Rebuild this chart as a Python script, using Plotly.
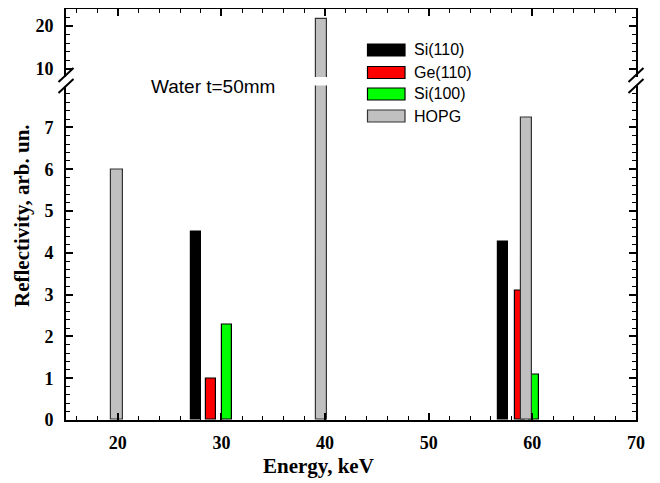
import plotly.graph_objects as go

# ---- data ----
series_names = ["Si(110)", "Ge(110)", "Si(100)", "HOPG"]
energy_si110 = [27.55, 57.21]
refl_si110 = [4.50, 4.27]
energy_ge110 = [29.03, 58.80]
refl_ge110 = [0.98, 3.09]
energy_si100 = [30.54, 60.15]
refl_si100 = [2.29, 1.09]
energy_hopg = [19.90, 39.66, 59.45]
refl_hopg = [6.00, 21.60, 7.23]
x_ticks = [20, 30, 40, 50, 60, 70]
y_low_ticks = [0, 1, 2, 3, 4, 5, 6, 7]
y_high_ticks = [10, 20]
annotation_text = "Water t=50mm"
x_title = "Energy, keV"
y_title = "Reflectivity, arb. un."

# page has an 8px body margin; plot area in page pixels is x 66..636, y 9..420
OFF = 8
W, H = 660 - OFF, 483 - OFF
L, R, T, B = 66 - OFF, 24, 9 - OFF, 63
PW, PH = W - L - R, H - T - B


def px(xp):  # page pixel -> paper
    return (xp - OFF - L) / PW


def py(yp):  # page pixel -> paper
    return (H - B - (yp - OFF)) / PH


low_top = py(85.6)
high_bot = py(77)

colors = ["#000000", "#ff0000", "#00ff00", "#c0c0c0"]
lines = ["#000000", "#000000", "#000000", "#333333"]
widths = [0.97, 0.97, 0.91, 1.12]
xs = [energy_si110, energy_ge110, energy_si100, energy_hopg]
ys = [refl_si110, refl_ge110, refl_si100, refl_hopg]

fig = go.Figure()
for xa, ya in (("x", "y"), ("x2", "y2")):
    for i in range(4):
        fig.add_trace(go.Bar(
            x=xs[i], y=ys[i], name=series_names[i], width=widths[i],
            marker=dict(color=colors[i], line=dict(color=lines[i], width=1.2)),
            xaxis=xa, yaxis=ya, showlegend=False,
        ))

tickfont = dict(family="Liberation Serif", size=18, color="black", weight="bold")
titlefont = dict(family="Liberation Serif", size=21, color="black", weight="bold")
common_x = dict(range=[15, 70], ticks="inside", ticklen=7, tickwidth=1.5,
                tickcolor="black", showline=True, linecolor="black", linewidth=2,
                showgrid=False, zeroline=False,
                minor=dict(dtick=2, tick0=0, ticks="inside", ticklen=4,
                           tickwidth=1.2, tickcolor="black"))

fig.update_layout(
    width=W, height=H,
    margin=dict(l=L, r=R, t=T, b=B, autoexpand=False),
    paper_bgcolor="white", plot_bgcolor="white",
    barmode="overlay", bargap=0,
    showlegend=False,
    xaxis=dict(**common_x, domain=[0, 1], anchor="y", tickvals=x_ticks,
               tickfont=tickfont, ticklabelstandoff=5),
    xaxis2=dict(**common_x, domain=[0, 1], anchor="y2", side="top",
                matches="x", tickvals=x_ticks, showticklabels=False),
    yaxis=dict(domain=[0, low_top], range=[0, 8], anchor="x",
               tickvals=y_low_ticks, ticks="inside", ticklen=7, tickwidth=1.5,
               tickcolor="black", showline=True, linecolor="black", linewidth=2,
               mirror="allticks", showgrid=False, zeroline=False,
               tickfont=tickfont, ticklabelstandoff=7,
               minor=dict(dtick=0.2, tick0=0, ticks="inside", ticklen=4,
                          tickwidth=1.2, tickcolor="black")),
    yaxis2=dict(domain=[high_bot, 1], range=[8, 24], anchor="x2",
                tickvals=y_high_ticks, ticks="inside", ticklen=7, tickwidth=1.5,
                tickcolor="black", showline=True, linecolor="black", linewidth=2,
                mirror="allticks", showgrid=False, zeroline=False,
                tickfont=tickfont, ticklabelstandoff=7,
                minor=dict(dtick=2, tick0=0, ticks="inside", ticklen=4,
                           tickwidth=1.2, tickcolor="black")),
)

shapes = []
# axis-break marks
for cx in (66, 636):
    for (y1, y2) in ((82, 68), (93, 79)):
        shapes.append(dict(type="line", xref="paper", yref="paper",
                           x0=px(cx - 7.5), y0=py(y1), x1=px(cx + 7.5), y1=py(y2),
                           line=dict(color="black", width=2)))

# custom legend
leg_y = [50, 72.5, 94, 116]
annotations = []
for i in range(4):
    shapes.append(dict(type="rect", xref="paper", yref="paper",
                       x0=px(367.5), x1=px(405), y0=py(leg_y[i] - 6), y1=py(leg_y[i] + 6),
                       fillcolor=colors[i], line=dict(color=lines[i], width=1.2)))
    annotations.append(dict(text=series_names[i], xref="paper", yref="paper",
                            x=px(412), y=py(leg_y[i]), xanchor="left", yanchor="middle",
                            showarrow=False,
                            font=dict(family="Liberation Sans", size=16, color="black")))

annotations.append(dict(text=annotation_text, xref="paper", yref="paper",
                        x=px(149), y=py(86), xanchor="left", yanchor="middle",
                        showarrow=False,
                        font=dict(family="Liberation Sans", size=19, color="black")))

# axis titles
annotations.append(dict(text=x_title, xref="paper", yref="paper",
                        x=px(318), y=py(466), xanchor="center", yanchor="middle",
                        showarrow=False, font=titlefont))
annotations.append(dict(text=y_title, xref="paper", yref="paper",
                        x=px(22), y=py(216), xanchor="center", yanchor="middle",
                        textangle=-90, showarrow=False, font=titlefont))

fig.update_layout(shapes=shapes, annotations=annotations)

fig.write_html("out.html")
